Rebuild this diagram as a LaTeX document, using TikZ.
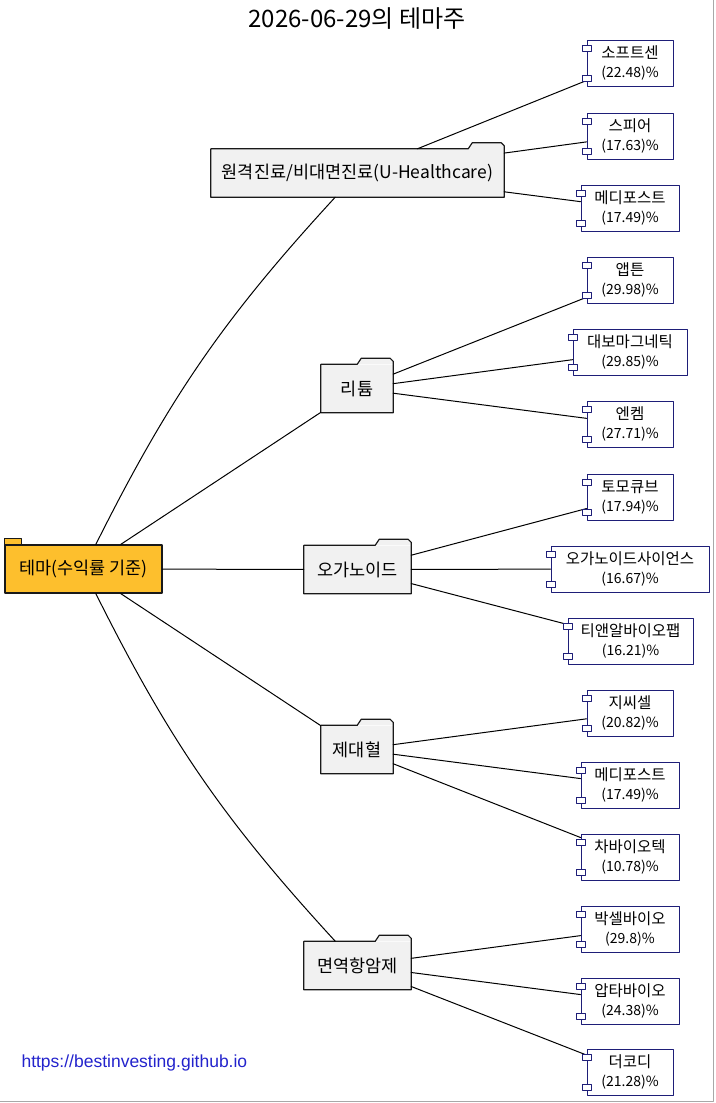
\documentclass[tikz,border=0pt]{standalone}
\usepackage{fontspec}
\setmainfont{Noto Sans CJK KR}
\newfontfamily\urlfont{Liberation Sans}
\usepackage{tikz}
\usetikzlibrary{positioning}
\definecolor{ThemeGold}{HTML}{FDBF2D}
\definecolor{PkgGray}{HTML}{F1F1F1}
\definecolor{CompNavy}{HTML}{1E1E78}
\definecolor{LinkBlue}{HTML}{2323CC}
\definecolor{FrameGray}{HTML}{A8A8A8}
\tikzset{
  pkgbox/.style={fill=PkgGray,minimum height=48,inner sep=0pt,
    font=\fontsize{17.5}{20}\selectfont},
  rootbox/.style={pkgbox,fill=ThemeGold,draw=black!90,line width=1.2pt},
  compbox/.style={draw=CompNavy,fill=white,line width=1pt,minimum height=46,
    inner sep=0pt,align=center,font=\fontsize{15.5}{19}\selectfont},
  port/.style={draw=CompNavy,fill=white,line width=0.9pt,minimum width=9,
    minimum height=6,inner sep=0pt},
  link/.style={draw=black,line width=1pt}
}
\newcommand{\pct}[1]{{\fontsize{14}{16}\selectfont(#1)\%}}
\newcommand{\drawpkgshape}[1]{%
  \path[fill=PkgGray]
    ([xshift=-36pt]#1.north east) -- ++(4,-6) -- ++(29,0) -- ++(3,3)
    -- (#1.north east) -- cycle;
  \path[draw=black!90,line width=1.2pt]
    (#1.north west) -- ([xshift=-36pt]#1.north east) -- ++(4,-6) -- ++(29,0)
    -- ++(3,3) -- (#1.south east) -- (#1.south west) -- cycle;
}
\newcommand{\drawcompports}[1]{%
  \node[port] (#1-up) at ([yshift=-8.5pt]#1.north west) {};
  \node[port] (#1-dn) at ([yshift=8.5pt]#1.south west) {};
}

\begin{document}
\begin{tikzpicture}[x=1pt,y=-1pt,line cap=round,line join=round]
        \useasboundingbox (0,0) rectangle (715,1103);
        \draw[FrameGray] (0,1101.5) -- (713.5,1101.5) -- (713.5,0);
        \node (title) at (357,19) {\fontsize{24}{28}\selectfont 2026-06-29의 테마주};
        % root and themes
        \node[rootbox,minimum width=157] (root) at (83.5,569) {테마(수익률 기준)};
        \path[fill=ThemeGold,draw=black!90,line width=1.2pt]
          (root.north west) rectangle ++(17,-6);
        \node[pkgbox,minimum width=293] (remote) at (357.5,173) {원격진료/비대면진료(U-Healthcare)};
        \node[pkgbox,minimum width=72] (lithium) at (357,388.5) {리튬};
        \node[pkgbox,minimum width=107] (organoid) at (357.5,569.5) {오가노이드};
        \node[pkgbox,minimum width=72] (cord) at (357,749.5) {제대혈};
        \node[pkgbox,minimum width=107] (immuno) at (357.5,965.5) {면역항암제};
        \foreach \p in {remote,lithium,organoid,cord,immuno}{\drawpkgshape{\p}}
        % stocks
        \node[compbox,minimum width=86] (sofs) at (630,63) {소프트센\\\pct{22.48}};
        \node[compbox,minimum width=86] (spear) at (630,136) {스피어\\\pct{17.63}};
        \node[compbox,minimum width=98] (medi) at (630,208) {메디포스트\\\pct{17.49}};
        \node[compbox,minimum width=86] (apton) at (630,280) {앱튼\\\pct{29.98}};
        \node[compbox,minimum width=114] (daebo) at (630,352) {대보마그네틱\\\pct{29.85}};
        \node[compbox,minimum width=86] (enchem) at (630,424) {엔켐\\\pct{27.71}};
        \node[compbox,minimum width=86] (tomo) at (630,497) {토모큐브\\\pct{17.94}};
        \node[compbox,minimum width=158] (orgsci) at (630,569) {오가노이드사이언스\\\pct{16.67}};
        \node[compbox,minimum width=125] (tnr) at (630.5,641) {티앤알바이오팹\\\pct{16.21}};
        \node[compbox,minimum width=86] (gcc) at (630,713) {지씨셀\\\pct{20.82}};
        \node[compbox,minimum width=98] (medi2) at (630,785) {메디포스트\\\pct{17.49}};
        \node[compbox,minimum width=98] (cha) at (630,857) {차바이오텍\\\pct{10.78}};
        \node[compbox,minimum width=98] (vaxcell) at (630,929) {박셀바이오\\\pct{29.8}};
        \node[compbox,minimum width=98] (apta) at (630,1001) {압타바이오\\\pct{24.38}};
        \node[compbox,minimum width=86] (thecodi) at (630,1072) {더코디\\\pct{21.28}};
        % links
        \draw[link] (root) to[bend left=8] (remote);
        \draw[link] (root) -- (lithium);
        \draw[link] (root) -- (organoid);
        \draw[link] (root) -- (cord);
        \draw[link] (root) to[bend right=8] (immuno);
        \foreach \a/\b in {remote/sofs,remote/spear,remote/medi,
          lithium/apton,lithium/daebo,lithium/enchem,
          organoid/tomo,organoid/orgsci,organoid/tnr,
          cord/gcc,cord/medi2,cord/cha,
          immuno/vaxcell,immuno/apta,immuno/thecodi}{\draw[link] (\a) -- (\b);}
        \foreach \c in {sofs,spear,medi,apton,daebo,enchem,tomo,orgsci,tnr,
          gcc,medi2,cha,vaxcell,apta,thecodi}{\drawcompports{\c}}
        \node[anchor=west,text=LinkBlue,font=\urlfont\fontsize{17.5}{20}\selectfont]
          (site) at (18,1063) {https://bestinvesting.github.io};
      \end{tikzpicture}
\end{document}
